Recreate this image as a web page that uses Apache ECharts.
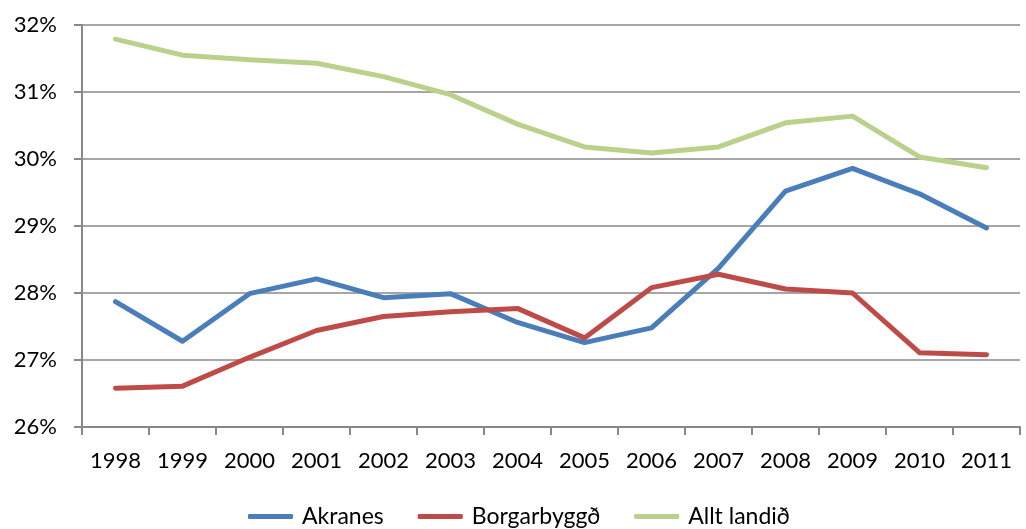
<!DOCTYPE html>
<html><head><meta charset="utf-8">
<script src="https://cdn.jsdelivr.net/npm/echarts@6/dist/echarts.min.js"></script>
<style>html,body{margin:0;padding:0;background:#fff}#c{width:1026px;height:529px}</style>
</head><body><div id="c"></div>
<script>
const years = ['1998','1999','2000','2001','2002','2003','2004','2005','2006','2007','2008','2009','2010','2011'];
const akranes = [27.87,27.28,27.99,28.21,27.93,27.99,27.56,27.26,27.48,28.37,29.52,29.86,29.48,28.97];
const borgarbyggd = [26.58,26.61,27.04,27.44,27.65,27.72,27.77,27.33,28.08,28.28,28.06,28.00,27.11,27.08];
const alltLandid = [31.79,31.55,31.48,31.43,31.23,30.96,30.52,30.18,30.09,30.18,30.54,30.64,30.03,29.87];
const names = ['Akranes','Borgarbyggð','Allt landið'];
const colors = ['#4A7EBB','#BE4B48','#BAD18C'];
const font = 'Lato, "Open Sans", sans-serif';
const chart = echarts.init(document.getElementById('c'));
const mk = (n, d, c) => ({name:n,type:'line',data:d,symbol:'none',smooth:false,
  lineStyle:{width:5,color:c,cap:'round',join:'round'},itemStyle:{color:c}});
chart.setOption({
  animation:false,
  textStyle:{fontFamily:font},
  grid:{left:82,right:6,top:25,bottom:102,containLabel:false},
  legend:{bottom:-4,left:243,itemWidth:45,itemHeight:5,itemGap:34,icon:'roundRect',
    textStyle:{fontSize:23,color:'#000',fontFamily:font,padding:[0,0,0,4]},data:names},
  xAxis:{type:'category',data:years,boundaryGap:true,
    axisLine:{lineStyle:{color:'#888',width:2}},
    axisTick:{show:true,length:8,lineStyle:{color:'#888',width:2}},
    axisLabel:{fontSize:22,color:'#000',margin:23,fontFamily:font}},
  yAxis:{type:'value',min:26,max:32,interval:1,
    axisLine:{show:true,lineStyle:{color:'#888',width:2}},
    axisTick:{show:true,length:8,lineStyle:{color:'#888',width:2}},
    splitLine:{lineStyle:{color:'#888',width:1.5}},
    axisLabel:{fontSize:22,color:'#000',margin:25,formatter:v=>v+'%',fontFamily:font}},
  series:[mk(names[0],akranes,colors[0]),mk(names[1],borgarbyggd,colors[1]),mk(names[2],alltLandid,colors[2])]
});
</script></body></html>
